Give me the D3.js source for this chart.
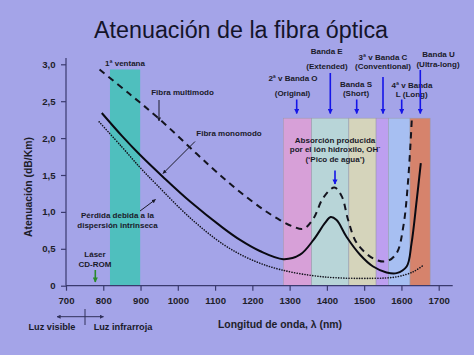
<!DOCTYPE html>
<html><head><meta charset="utf-8">
<script src="https://cdn.jsdelivr.net/npm/d3@7"></script>
<style>html,body{margin:0;padding:0;background:#a4a4e8;}svg{display:block;}text{font-family:"Liberation Sans",Arial,sans-serif;}</style>
</head><body>
<script>
// ---- data ----
const xTicks = [700,800,900,1000,1100,1200,1300,1400,1500,1600,1700];
const yTicks = [0,0.5,1,1.5,2,2.5,3];
const yTickLabels = ["0","0,5","1,0","1,5","2,0","2,5","3,0"];

const multiWl  = [790,870,948,1050,1104,1167,1230,1274,1310,1337,1364,1390,1420,1440,1457,1480,1524,1560,1587,1605,1618,1628];
const multiVal = [2.93,2.60,2.27,1.79,1.54,1.27,1.03,0.89,0.80,0.77,0.91,1.19,1.33,1.21,0.89,0.58,0.37,0.33,0.44,0.80,1.43,2.27];

const monoWl  = [796,850,899,961,1033,1122,1167,1220,1283,1328,1364,1395,1410,1426,1453,1489,1524,1560,1587,1614,1627,1641,1652];
const monoVal = [2.34,2.03,1.77,1.47,1.14,0.78,0.62,0.47,0.36,0.42,0.62,0.85,0.93,0.89,0.66,0.42,0.26,0.18,0.17,0.26,0.57,1.16,1.66];

const dispWl  = [789,850,899,943,1033,1122,1194,1274,1390,1524,1587,1632,1657];
const dispVal = [2.22,1.88,1.60,1.37,0.92,0.56,0.36,0.22,0.12,0.10,0.12,0.19,0.27];

const bandNames = ["1ª ventana","O","E","S","C","L","U"];
const bandStart = [818,1283,1359,1459,1532,1565,1623];
const bandEnd   = [899,1359,1459,1532,1565,1623,1677];
const bandTop   = [2.93,2.27,2.27,2.27,2.27,2.27,2.27];
const bandColors = ["#4fbfbe","#d7a0d8","#b8d5d8","#d5d4bb","#bd9ff0","#a7bff2","#d6836c"];

// ---- chart ----
const W = 474, H = 355;
const svg = d3.select("body").append("svg").attr("width",W).attr("height",H);
svg.append("rect").attr("width",W).attr("height",H).attr("fill","#a4a4e8");

const x = d3.scaleLinear().domain([700,1700]).range([66,438.7]);
const y = d3.scaleLinear().domain([0,3]).range([285.7,64.3]);

const defs = svg.append("defs");
function marker(id,color,size){
  defs.append("marker").attr("id",id).attr("viewBox","0 0 10 10").attr("refX",9).attr("refY",5)
    .attr("markerWidth",size).attr("markerHeight",size).attr("orient","auto-start-reverse")
    .append("path").attr("d","M0,0 L10,5 L0,10 z").attr("fill",color);
}
marker("ab","#1a1a2a",4);
marker("abl","#1515e8",3.2);
marker("agr","#2a8a2a",3.2);
marker("adk","#30305a",4);

// title
svg.append("text").attr("x",241).attr("y",38).attr("text-anchor","middle")
  .attr("font-size",23.3).attr("fill","#14142a").text("Atenuación de la fibra óptica");

// bands
svg.append("g").selectAll("rect").data(bandNames).join("rect")
  .attr("x",(d,i)=>x(bandStart[i])).attr("width",(d,i)=>x(bandEnd[i])-x(bandStart[i]))
  .attr("y",(d,i)=>y(bandTop[i])).attr("height",(d,i)=>y(0)-y(bandTop[i]))
  .attr("fill",(d,i)=>bandColors[i])
  .attr("stroke",(d,i)=>i===0?"none":"#9a9aa8").attr("stroke-width",0.5);

// axes
const xAxis = svg.append("g").attr("transform",`translate(0,${y(0)})`)
  .call(d3.axisBottom(x).tickValues(xTicks).tickSize(5).tickSizeOuter(0).tickPadding(6).tickFormat(d3.format("d")));
xAxis.select(".domain").attr("d",`M${x(700)},0H452.7`);
const yAxis = svg.append("g").attr("transform",`translate(${x(700)},0)`)
  .call(d3.axisLeft(y).tickValues(yTicks).tickSize(5).tickSizeOuter(0).tickPadding(5.5).tickFormat((d,i)=>yTickLabels[i]));
yAxis.select(".domain").attr("d",`M0,58V${y(0)}`);
[xAxis,yAxis].forEach(g=>{
  g.selectAll("path,line").attr("stroke","#3a3a6e").attr("stroke-width",1.2);
  g.selectAll("text").attr("font-size",9.6).attr("font-weight","bold").attr("fill","#1e1e2a")
   .attr("font-family","'Liberation Sans',Arial,sans-serif");
});

// axis titles
svg.append("text").attr("x",280).attr("y",327.5).attr("text-anchor","middle")
  .attr("font-size",10.4).attr("font-weight","bold").attr("fill","#1e1e2a").text("Longitud de onda, λ (nm)");
svg.append("text").attr("transform","translate(32,187) rotate(-90)").attr("text-anchor","middle")
  .attr("font-size",10.4).attr("font-weight","bold").attr("fill","#1e1e2a").text("Atenuación (dB/Km)");

// curves
const line = d3.line().x(d=>x(d[0])).y(d=>y(d[1])).curve(d3.curveCatmullRom.alpha(0.5));
const zip = (a,b)=>a.map((v,i)=>[v,b[i]]);
svg.append("path").datum(zip(dispWl,dispVal)).attr("d",line).attr("fill","none")
  .attr("stroke","#14141e").attr("stroke-width",1.6).attr("stroke-dasharray","0.1 2.5").attr("stroke-linecap","round");
svg.append("path").datum(zip(monoWl,monoVal)).attr("d",line).attr("fill","none")
  .attr("stroke","#0a0a12").attr("stroke-width",2);
svg.append("path").datum(zip(multiWl,multiVal)).attr("d",line).attr("fill","none")
  .attr("stroke","#14141e").attr("stroke-width",2).attr("stroke-dasharray","6.5 5");

// annotations
const T = (txt,cx,by,size=8,anchor="middle")=>svg.append("text").attr("x",cx).attr("y",by)
  .attr("text-anchor",anchor).attr("font-size",size).attr("font-weight","bold").attr("fill","#1a1a2a").text(txt);
const A = (x1,y1,x2,y2,mk,color,w)=>svg.append("line").attr("x1",x1).attr("y1",y1).attr("x2",x2).attr("y2",y2)
  .attr("stroke",color).attr("stroke-width",w).attr("marker-end",`url(#${mk})`);

T("1ª ventana",125,66);
T("Fibra multimodo",182.5,95);
A(159,100,159,121,"ab","#1a1a2a",1);
T("Fibra monomodo",229,136);
A(195,141.5,163,173.5,"ab","#1a1a2a",1);
T("Pérdida debida a la",117.5,218);
T("dispersión intrinseca",117.5,227.5);
A(140,211,155.5,199.5,"ab","#1a1a2a",1);
T("Láser",95,257);
T("CD-ROM",95,266.5);
A(95.3,270,95.3,282,"agr","#2a8a2a",1.6);

T("Absorción producida",335,143);
const oh = T("por el ión hidroxilo, OH",335,152);
oh.append("tspan").attr("dy",-3).attr("font-size",6).text("-");
T("(‘Pico de agua’)",335,161.5);
A(335,170.5,335,184,"abl","#1515e8",1.6);

T("2ª v Banda O",293,81);
T("(Original)",292.5,95.5);
A(296.7,99.5,296.7,113.5,"abl","#1515e8",1.6);
T("Banda E",326.7,54);
T("(Extended)",327,68.5);
A(330.3,73,330.3,113.5,"abl","#1515e8",1.6);
T("Banda S",356,86.5);
T("(Short)",356,95.5);
A(356.7,99.5,356.7,113.5,"abl","#1515e8",1.6);
T("3ª v Banda C",383,59.5);
T("(Conventional)",383,69);
A(383,77,383,113.5,"abl","#1515e8",1.6);
T("4ª v Banda",412,87.5);
T("L (Long)",411.7,96.5);
A(401.7,99.5,401.7,113.5,"abl","#1515e8",1.6);
T("Banda U",438.5,57);
T("(Ultra-long)",438,67);
A(420.3,70,420.3,113.5,"abl","#1515e8",1.6);

// visible / infrared
A(85,316.7,57,316.7,"adk","#30305a",1);
A(85,316.7,103.5,316.7,"adk","#30305a",1);
svg.append("line").attr("x1",85).attr("x2",85).attr("y1",309).attr("y2",325).attr("stroke","#30305a").attr("stroke-width",1);
T("Luz visible",52,329.5,9.2);
T("Luz infrarroja",123,329.5,9.2);
</script>
</body></html>
